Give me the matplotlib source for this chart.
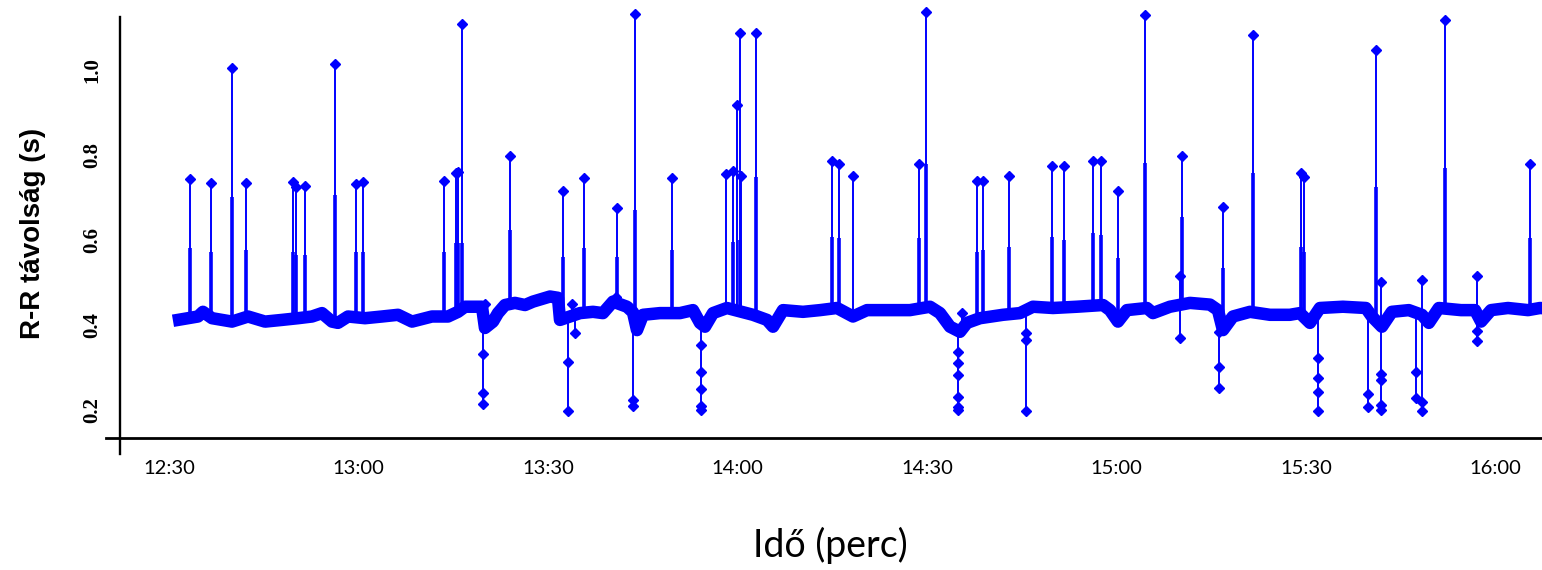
import numpy as np
import matplotlib
matplotlib.use("Agg")
import matplotlib.pyplot as plt
from matplotlib.lines import Line2D

# ---- data (time in minutes after 12:00, R-R interval in seconds) ----
base_t = [30.63, 34.59, 35.38, 36.81, 39.97, 42.51, 45.20, 47.89, 50.42, 52.64,
          54.22, 55.80, 56.75, 58.34, 61.03, 63.72, 66.25, 68.47, 71.63, 74.17,
          75.75, 76.86, 79.55, 80.02, 81.29, 82.08, 83.19, 84.77, 86.36, 87.62,
          90.31, 91.58, 91.90, 93.48, 95.06, 97.12, 98.70, 100.29, 102.50, 103.45,
          104.09, 105.04, 107.73, 110.89, 112.95, 114.06, 114.85, 116.12, 118.33, 122.45,
          124.67, 125.62, 127.20, 130.37, 133.06, 135.75, 138.28, 140.50, 144.14, 147.30,
          150.47, 152.05, 153.64, 155.22, 156.33, 158.38, 162.02, 164.72, 166.77, 169.94,
          173.74, 177.86, 178.96, 180.23, 181.65, 184.82, 185.77, 188.46, 191.63, 194.80,
          196.06, 196.85, 198.43, 201.13, 204.29, 207.45, 209.04, 210.62, 212.20, 215.84,
          219.48, 220.43, 222.01, 223.59, 226.28, 228.34, 229.45, 231.03, 234.54, 236.76,
          237.71, 239.29, 241.98, 245.15, 247.05, 249.00]
base_v = [0.410, 0.420, 0.431, 0.416, 0.408, 0.420, 0.408, 0.412, 0.416, 0.420,
          0.428, 0.408, 0.405, 0.420, 0.416, 0.420, 0.424, 0.408, 0.420, 0.420,
          0.431, 0.443, 0.443, 0.393, 0.408, 0.428, 0.447, 0.452, 0.447, 0.455,
          0.467, 0.464, 0.412, 0.420, 0.428, 0.431, 0.428, 0.455, 0.443, 0.430,
          0.388, 0.424, 0.428, 0.428, 0.435, 0.405, 0.396, 0.428, 0.440, 0.424,
          0.412, 0.396, 0.435, 0.431, 0.435, 0.440, 0.420, 0.435, 0.435, 0.435,
          0.443, 0.428, 0.396, 0.384, 0.405, 0.416, 0.424, 0.428, 0.443, 0.440,
          0.443, 0.447, 0.435, 0.408, 0.435, 0.440, 0.428, 0.443, 0.452, 0.448,
          0.435, 0.388, 0.420, 0.431, 0.424, 0.424, 0.428, 0.405, 0.440, 0.443,
          0.440, 0.420, 0.396, 0.431, 0.435, 0.424, 0.405, 0.440, 0.435, 0.435,
          0.408, 0.435, 0.440, 0.435, 0.440, 0.438]

# upward (long R-R) beats: time, shoulder value, peak value
up_t = [33.32, 36.65, 39.97, 42.19, 49.63, 50.10, 51.53, 56.28, 59.60, 60.71,
        73.53, 75.43, 75.75, 76.38, 83.98, 92.37, 95.70, 100.92, 103.77, 109.63,
        118.17, 119.28, 119.92, 120.39, 120.55, 122.92, 134.96, 136.07, 138.28, 148.73,
        149.84, 157.91, 158.86, 162.97, 169.78, 171.68, 176.27, 177.54, 180.23, 184.50,
        190.36, 196.85, 201.60, 209.20, 209.67, 221.06, 231.98, 245.46]
up_mid = [0.581, 0.572, 0.701, 0.576, 0.572, 0.565, 0.565, 0.706, 0.572, 0.572,
          0.572, 0.593, 0.593, 0.593, 0.624, 0.560, 0.581, 0.560, 0.671, 0.576,
          np.nan, 0.595, np.nan, 0.600, np.nan, 0.748, 0.607, 0.605, np.nan, 0.605,
          0.780, 0.572, 0.576, 0.584, 0.607, 0.600, 0.616, 0.612, 0.558, 0.781,
          0.654, 0.534, 0.758, 0.584, 0.572, 0.725, 0.769, 0.605]
up_peak = [0.744, 0.734, 1.005, 0.734, 0.736, 0.725, 0.727, 1.014, 0.732, 0.736,
           0.739, 0.758, 0.760, 1.108, 0.798, 0.715, 0.746, 0.675, 1.132, 0.746,
           0.755, 0.762, 0.918, 1.087, 0.751, 1.087, 0.786, 0.779, 0.751, 0.779,
           1.136, 0.739, 0.739, 0.751, 0.774, 0.774, 0.786, 0.786, 0.715, 1.129,
           0.798, 0.678, 1.082, 0.758, 0.748, 1.047, 1.118, 0.779]

# other marked (mostly short R-R) beats: time, marked values
beat_t = [79.71, 80.02, 93.16, 93.80, 94.27, 100.76, 103.45, 114.22, 154.90, 155.53,
          165.67, 190.05, 196.20, 211.89, 219.80, 221.85, 227.39, 228.34, 237.07]
beat_vals = [[0.332, 0.240, 0.214], [0.449], [0.313, 0.198], [0.449], [0.381],
             [0.466], [0.224, 0.209], [0.353, 0.289, 0.249, 0.209, 0.200],
             [0.336, 0.311, 0.282, 0.231, 0.207, 0.200], [0.428],
             [0.381, 0.365, 0.198], [0.515, 0.369], [0.384, 0.301, 0.252],
             [0.322, 0.275, 0.242, 0.198], [0.238, 0.207],
             [0.501, 0.285, 0.271, 0.212, 0.200], [0.289, 0.228],
             [0.506, 0.219, 0.198], [0.515, 0.386, 0.362]]

tick_labels = ["12:30", "13:00", "13:30", "14:00", "14:30", "15:00", "15:30", "16:00"]
ytick_vals = [0.2, 0.4, 0.6, 0.8, 1.0]

# ---- figure ----
W, H = 1542, 570
fig = plt.figure(figsize=(W / 100, H / 100), dpi=100)
L, R, T, B = 120, 1542, 17, 438
ax = fig.add_axes([L / W, (H - B) / H, (R - L) / W, (B - T) / H])

blue = "#0000ff"
bt = np.array(base_t)
bv = np.array(base_v)

ax.plot(bt, bv, color=blue, lw=9.0, solid_joinstyle="round",
        solid_capstyle="butt", zorder=2)

ut = np.array(up_t)
ub = np.interp(ut, bt, bv)
ax.vlines(ut, ub, up_peak, color=blue, lw=1.4, zorder=3, clip_on=False)
mids = np.array(up_mid)
ok = ~np.isnan(mids)
ax.vlines(ut[ok], ub[ok], mids[ok], color=blue, lw=2.6, zorder=3)
ax.plot(ut, up_peak, ls="none", marker="D", ms=5, color=blue,
        clip_on=False, zorder=4)

for t, vals in zip(beat_t, beat_vals):
    b = float(np.interp(t, bt, bv))
    lo = min(min(vals), b)
    hi = max(max(vals), b)
    ax.vlines(t, lo, hi, color=blue, lw=1.4, zorder=3)
    ax.plot([t] * len(vals), vals, ls="none", marker="D", ms=5,
            color=blue, zorder=4)

# axes ranges
px_per_min = 189.5 / 30.0
x0 = 30 - (169 - L) / px_per_min
x1 = 30 + (R - 169) / px_per_min
ax.set_xlim(x0, x1)
px_per_s = 425.0
ax.set_ylim(0.4 - (B - 325) / px_per_s, 0.4 + (325 - T) / px_per_s)

for s in ax.spines.values():
    s.set_visible(False)
ax.add_line(Line2D([-14 / (R - L), 1], [0, 0], transform=ax.transAxes,
                   color="black", lw=2.0, clip_on=False))
ax.add_line(Line2D([0, 0], [-16 / (B - T), 1], transform=ax.transAxes,
                   color="black", lw=1.7, clip_on=False))

tick_pos = [int(s.split(":")[0]) * 60 + int(s.split(":")[1]) - 720 for s in tick_labels]
ax.set_xticks(tick_pos)
ax.set_xticklabels(tick_labels, fontfamily="Lato", fontsize=14.5)
ax.set_yticks(ytick_vals)
ax.set_yticklabels([f"{v:.1f}" for v in ytick_vals], fontfamily="Liberation Serif",
                   fontweight="bold", fontsize=15, rotation=90, va="center")
ax.tick_params(axis="x", length=0, pad=16)
ax.tick_params(axis="y", length=0, pad=13)

fig.text(33 / W, 1 - 233 / H, "R-R távolság (s)", rotation=90, ha="center",
         va="center", fontfamily="Liberation Sans", fontweight="bold", fontsize=20)
fig.text(830 / W, 1 - 557 / H, "Idő (perc)", ha="center", va="baseline",
         fontfamily="Lato", fontsize=27)

fig.savefig("out.png", dpi=100)
